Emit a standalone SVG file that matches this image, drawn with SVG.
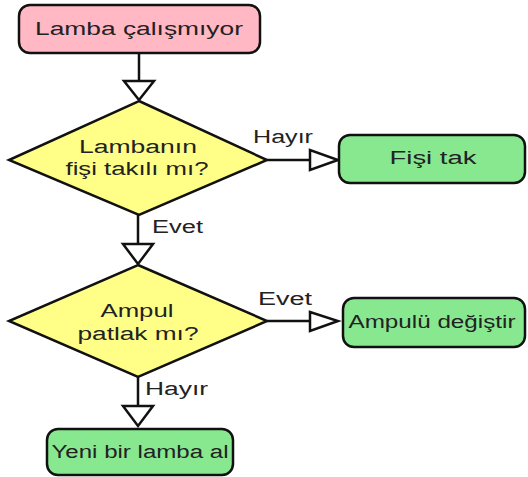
<svg xmlns="http://www.w3.org/2000/svg" width="528" height="477" viewBox="0 0 528 477">
<style>
.t{font-family:"Liberation Sans",Arial,sans-serif;fill:#222;text-anchor:middle;font-size:18px}
.lbl{font-family:"Liberation Sans",Arial,sans-serif;fill:#222;font-size:18px}
.box{stroke:#111;stroke-width:2.5}
.ln{stroke:#111;stroke-width:2.5;fill:none}
.ar{fill:#fff;stroke:#111;stroke-width:2.5;stroke-linejoin:miter}
</style>
<rect width="528" height="477" fill="#fff"/>
<g id="connectors">
<line class="ln" x1="139" y1="53" x2="139" y2="81"/>
<polygon class="ar" points="124,81 154,81 139,100"/>
<line class="ln" x1="267" y1="160" x2="310" y2="160"/>
<polygon class="ar" points="310,150 310,170 338,160"/>
<text class="lbl" x="253" y="143" textLength="60" lengthAdjust="spacingAndGlyphs">Hayır</text>
<line class="ln" x1="138" y1="215" x2="138" y2="244"/>
<polygon class="ar" points="123,244 153,244 138,264"/>
<text class="lbl" x="152" y="233" textLength="51" lengthAdjust="spacingAndGlyphs">Evet</text>
<line class="ln" x1="267" y1="321" x2="310" y2="321"/>
<polygon class="ar" points="310,312 310,331 338,321"/>
<text class="lbl" x="258" y="305" textLength="54" lengthAdjust="spacingAndGlyphs">Evet</text>
<line class="ln" x1="138" y1="377" x2="138" y2="406"/>
<polygon class="ar" points="123,406 153,406 138,426"/>
<text class="lbl" x="145" y="395" textLength="63" lengthAdjust="spacingAndGlyphs">Hayır</text>
</g>
<g id="start">
<rect class="box" x="19" y="5" width="241" height="48" rx="11" fill="#ffb8c4"/>
<text class="t" x="139" y="35" textLength="208" lengthAdjust="spacingAndGlyphs">Lamba çalışmıyor</text>
</g>
<g id="q1">
<polygon class="box" points="139,101 267,160 139,215 9,160" fill="#ffff88"/>
<text class="t" x="138" y="153" textLength="118" lengthAdjust="spacingAndGlyphs">Lambanın</text>
<text class="t" x="137" y="175" textLength="143" lengthAdjust="spacingAndGlyphs">fişi takılı mı?</text>
</g>
<g id="plug">
<rect class="box" x="339" y="135" width="186" height="48" rx="11" fill="#88e890"/>
<text class="t" x="433" y="164" textLength="87" lengthAdjust="spacingAndGlyphs">Fişi tak</text>
</g>
<g id="q2">
<polygon class="box" points="138,265 267,321 138,377 9,321" fill="#ffff88"/>
<text class="t" x="137" y="317" textLength="73" lengthAdjust="spacingAndGlyphs">Ampul</text>
<text class="t" x="138" y="340" textLength="121" lengthAdjust="spacingAndGlyphs">patlak mı?</text>
</g>
<g id="bulb">
<rect class="box" x="343" y="298" width="182" height="49" rx="11" fill="#88e890"/>
<text class="t" x="432" y="328" textLength="167" lengthAdjust="spacingAndGlyphs">Ampulü değiştir</text>
</g>
<g id="newlamp">
<rect class="box" x="47" y="429" width="186" height="46" rx="11" fill="#88e890"/>
<text class="t" x="140" y="458" textLength="177" lengthAdjust="spacingAndGlyphs">Yeni bir lamba al</text>
</g>
</svg>
